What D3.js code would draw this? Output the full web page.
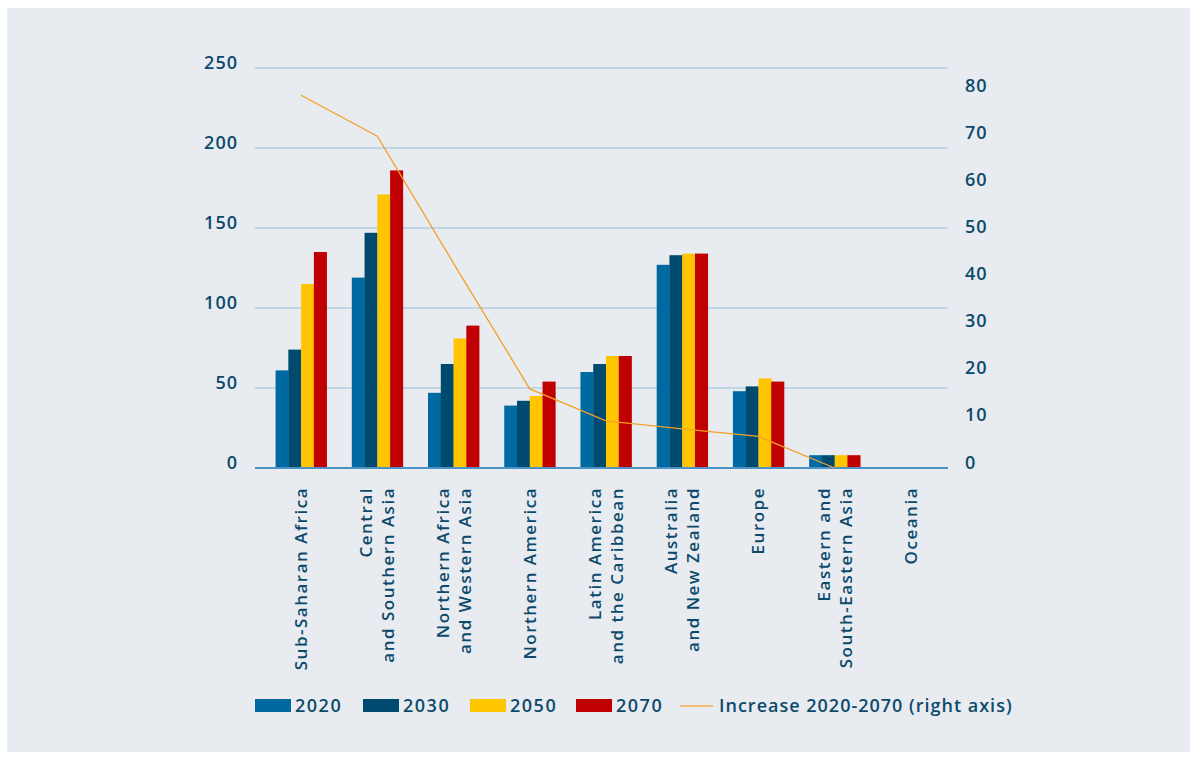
<!DOCTYPE html>
<html>
<head>
<meta charset="utf-8">
<script src="https://cdn.jsdelivr.net/npm/d3@7"></script>
<style>
  html, body { margin: 0; padding: 0; background: #ffffff; }
  svg { display: block; }
  text { font-family: "Open Sans", "Noto Sans", sans-serif; fill: #0c4a6c; }
</style>
</head>
<body>
<svg id="chart" width="1196" height="758"></svg>
<script>
// Regions (line breaks in labels marked with "\n")
const regions = [
  "Sub-Saharan Africa",
  "Central\nand Southern Asia",
  "Northern Africa\nand Western Asia",
  "Northern America",
  "Latin America\nand the Caribbean",
  "Australia\nand New Zealand",
  "Europe",
  "Eastern and\nSouth-Eastern Asia",
  "Oceania"
];

const years = ["2020", "2030", "2050", "2070"];

// Values per year, one entry per region (left axis)
const values2020 = [61, 119, 47, 39, 60, 127, 48, 8, 0];
const values2030 = [74, 147, 65, 42, 65, 133, 51, 8, 0];
const values2050 = [115, 171, 81, 45, 70, 134, 56, 8, 0];
const values2070 = [135, 186, 89, 54, 70, 134, 54, 8, 0];

// Increase 2020-2070 (right axis); no value for Oceania
const increase = [79.2, 70.5, 43.5, 16.8, 10.0, 8.3, 6.7, 0, null];

const leftTicks = [0, 50, 100, 150, 200, 250];
const rightTicks = [0, 10, 20, 30, 40, 50, 60, 70, 80];

const colors = { "2020": "#0069a1", "2030": "#004a6f", "2050": "#ffc500", "2070": "#c00000" };
const lineColor = "#f5a028";

const series = { "2020": values2020, "2030": values2030, "2050": values2050, "2070": values2070 };

const svg = d3.select("#chart");

// Panel
svg.append("rect").attr("x", 7).attr("y", 8).attr("width", 1183).attr("height", 744).attr("fill", "#e8ebf0");

const gridLeft = 255, gridRight = 948;
const yL = d3.scaleLinear().domain([0, 250]).range([468, 68]);
const yR = d3.scaleLinear().domain([0, 85]).range([468, 68]);
const x0 = d3.scaleBand().domain(regions).range([263, 949]).paddingInner(0.33).paddingOuter(0.165);
const x1 = d3.scaleBand().domain(years).range([0, x0.bandwidth()]);

// Gridlines
svg.append("g").selectAll("line").data(leftTicks.filter(d => d > 0)).join("line")
  .attr("x1", gridLeft).attr("x2", gridRight)
  .attr("y1", d => yL(d)).attr("y2", d => yL(d))
  .attr("stroke", "#b4cfe2").attr("stroke-width", 1.3);

// Left axis
const leftAxis = svg.append("g").attr("transform", "translate(238,0)")
  .call(d3.axisLeft(yL).tickValues(leftTicks).tickSize(0).tickPadding(0));
leftAxis.select(".domain").remove();
leftAxis.selectAll("text").attr("dy", 0).attr("font-size", 18).attr("font-weight", 600)
  .attr("letter-spacing", 1)
  .style("font-family", "\"Open Sans\", sans-serif").attr("fill", "#0c4a6c");

// Right axis
const rightAxis = svg.append("g").attr("transform", "translate(965,0)")
  .call(d3.axisRight(yR).tickValues(rightTicks).tickSize(0).tickPadding(0));
rightAxis.select(".domain").remove();
rightAxis.selectAll("text").attr("dy", 0).attr("font-size", 18).attr("font-weight", 600)
  .attr("letter-spacing", 1)
  .style("font-family", "\"Open Sans\", sans-serif").attr("fill", "#0c4a6c");

// Bars
const groups = svg.append("g").selectAll("g").data(regions).join("g")
  .attr("transform", d => `translate(${x0(d)},0)`);
groups.selectAll("rect")
  .data((d, i) => years.map(y => ({ year: y, value: series[y][i] })))
  .join("rect")
  .attr("x", d => x1(d.year))
  .attr("width", x1.bandwidth() + 0.3)
  .attr("y", d => yL(d.value))
  .attr("height", d => yL(0) - yL(d.value))
  .attr("fill", d => colors[d.year]);

// Baseline
svg.append("line").attr("x1", gridLeft).attr("x2", gridRight)
  .attr("y1", yL(0)).attr("y2", yL(0))
  .attr("stroke", "#4a93c4").attr("stroke-width", 2);

// Increase line (right axis)
const line = d3.line()
  .defined(d => d.v !== null)
  .x(d => x0(d.r) + x0.bandwidth() / 2)
  .y(d => yR(d.v));
svg.append("path")
  .datum(regions.map((r, i) => ({ r, v: increase[i] })))
  .attr("d", line).attr("fill", "none")
  .attr("stroke", lineColor).attr("stroke-width", 1.3);

// Category labels (rotated)
const labels = svg.append("g").selectAll("g").data(regions).join("g")
  .attr("transform", d => `translate(${x0(d) + x0.bandwidth() / 2},487) rotate(-90)`);
labels.each(function (d) {
  const lines = d.split("\n");
  const g = d3.select(this);
  const lh = 22;
  lines.forEach((t, k) => {
    g.append("text")
      .attr("text-anchor", "end")
      .attr("x", 0)
      .attr("y", (k - (lines.length - 1) / 2) * lh)
      .attr("dy", "0.35em")
      .attr("font-size", 17).attr("font-weight", 600)
      .attr("letter-spacing", 1.5)
      .text(t);
  });
});

// Legend
const legend = svg.append("g").attr("transform", "translate(0,706)");
const legendItems = [
  { key: "2020", x: 255 }, { key: "2030", x: 363 },
  { key: "2050", x: 470 }, { key: "2070", x: 576 }
];
legendItems.forEach(it => {
  legend.append("rect").attr("x", it.x).attr("y", -7).attr("width", 36).attr("height", 13).attr("fill", colors[it.key]);
  legend.append("text").attr("x", it.x + 40).attr("y", 0).attr("dy", "0.35em")
    .attr("font-size", 18).attr("font-weight", 600).attr("letter-spacing", 1.5).text(it.key);
});
legend.append("line").attr("x1", 680).attr("x2", 713).attr("y1", 0).attr("y2", 0)
  .attr("stroke", "#f3bb74").attr("stroke-width", 2);
legend.append("text").attr("x", 719).attr("y", 0).attr("dy", "0.35em")
  .attr("font-size", 18).attr("font-weight", 600).attr("letter-spacing", 1).text("Increase 2020-2070 (right axis)");
</script>
</body>
</html>
